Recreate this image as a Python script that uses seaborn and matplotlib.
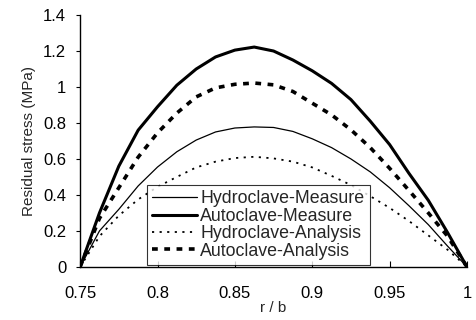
import numpy as np
import pandas as pd
import matplotlib
matplotlib.use("Agg")
import matplotlib.pyplot as plt
import seaborn as sns

# r / b positions
r_b = [0.75, 0.7625, 0.775, 0.7875, 0.8, 0.8125, 0.825, 0.8375, 0.85, 0.8625, 0.875,
       0.8875, 0.9, 0.9125, 0.925, 0.9375, 0.95, 0.9625, 0.975, 0.9875, 1.0]

hydro_measure = [0, 0.20, 0.32, 0.45, 0.555, 0.64, 0.705, 0.75, 0.772, 0.778, 0.775,
                 0.753, 0.712, 0.663, 0.60, 0.528, 0.44, 0.34, 0.235, 0.115, 0]
auto_measure = [0, 0.30, 0.56, 0.76, 0.89, 1.01, 1.10, 1.167, 1.205, 1.222, 1.20,
                1.15, 1.09, 1.02, 0.93, 0.81, 0.68, 0.52, 0.37, 0.19, 0]
hydro_analysis = [0, 0.17, 0.285, 0.375, 0.445, 0.50, 0.553, 0.585, 0.605, 0.612, 0.603,
                  0.585, 0.553, 0.506, 0.455, 0.393, 0.328, 0.255, 0.175, 0.095, 0]
auto_analysis = [0, 0.27, 0.44, 0.61, 0.745, 0.855, 0.945, 0.995, 1.015, 1.022, 1.012,
                 0.975, 0.91, 0.845, 0.762, 0.663, 0.548, 0.425, 0.30, 0.17, 0]

labels = ["Hydroclave-Measure", "Autoclave-Measure", "Hydroclave-Analysis", "Autoclave-Analysis"]
xticks = [0.75, 0.8, 0.85, 0.9, 0.95, 1.0]
xtick_labels = ["0.75", "0.8", "0.85", "0.9", "0.95", "1"]
yticks = [0, 0.2, 0.4, 0.6, 0.8, 1.0, 1.2, 1.4]
ytick_labels = ["0", "0.2", "0.4", "0.6", "0.8", "1", "1.2", "1.4"]

rows = []
for name, vals in zip(labels, [hydro_measure, auto_measure, hydro_analysis, auto_analysis]):
    for x, v in zip(r_b, vals):
        rows.append({"r/b": x, "stress": v, "series": name})
df = pd.DataFrame(rows)

sns.set_style("white")
plt.rcParams['font.family'] = ['Liberation Sans', 'DejaVu Sans']

styles = {
    "Hydroclave-Measure": dict(lw=0.9, ls="-"),
    "Autoclave-Measure": dict(lw=2.2, ls="-"),
    "Hydroclave-Analysis": dict(lw=1.3, ls=(0, (1.2, 3.0))),
    "Autoclave-Analysis": dict(lw=2.6, ls=(0, (1.6, 1.8))),
}

fig = plt.figure(figsize=(4.77, 3.2), dpi=100)
ax = fig.add_axes([0.168, 0.166, 0.811, 0.787])

for name in labels:
    sub = df[df.series == name]
    sns.lineplot(data=sub, x="r/b", y="stress", ax=ax, color="black",
                 linewidth=styles[name]["lw"], linestyle=styles[name]["ls"],
                 label=name, estimator=None, sort=False)

ax.set_xlim(0.75, 1.0)
ax.set_ylim(0, 1.4)
ax.set_xticks(xticks)
ax.set_xticklabels(xtick_labels)
ax.set_yticks(yticks)
ax.set_yticklabels(ytick_labels)
ax.tick_params(axis="x", direction="in", length=4, width=0.8, pad=14, labelsize=12, colors="black")
ax.tick_params(axis="y", direction="out", length=3, width=0.8, pad=7, labelsize=12, colors="black")
ax.tick_params(bottom=True, left=True)
for s in ["top", "right"]:
    ax.spines[s].set_visible(False)
for s in ["left", "bottom"]:
    ax.spines[s].set_color("black")
    ax.spines[s].set_linewidth(1.0)

ax.set_xlabel("r / b", fontsize=11, labelpad=0)
ax.set_ylabel("Residual stress (MPa)", fontsize=11, labelpad=5)

leg = ax.legend(loc="lower left", bbox_to_anchor=(0.173, 0.008), borderaxespad=0,
                frameon=True, fancybox=False, edgecolor="black", fontsize=12.8,
                handlelength=2.5, handletextpad=0.2, labelspacing=0.02,
                borderpad=0.3)
leg.get_frame().set_linewidth(0.8)

fig.savefig("out.png", dpi=100)
